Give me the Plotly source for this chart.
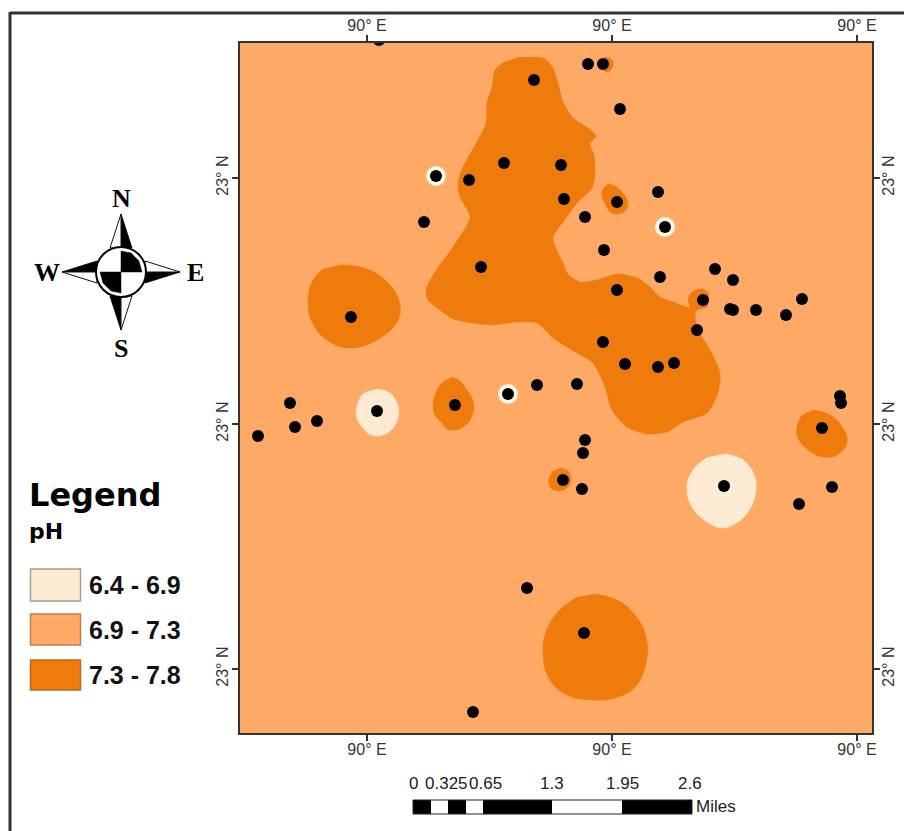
import plotly.graph_objects as go

# ---------- data (in map-sheet units) ----------
main_x = [533,545,553,558,563,573,588,596,590,594,595,592,577,563,553,558,563,567,580,597,617,637,650,660,673,687,690,688,690,696,703,708,709,707,697,695,700,710,720,718,707,683,667,647,627,612,605,593,577,553,537,517,493,473,453,440,428,426,435,453,470,460,458,463,478,486,487,492,495,503,520]
main_y = [57,59,68,83,102,118,128,136,144,155,173,188,203,222,238,253,263,273,282,280,274,278,287,297,302,307,307,300,294,290,289,292,298,307,310,317,333,350,373,393,413,422,432,434,427,410,387,363,353,338,323,322,325,323,319,310,300,290,272,247,217,197,183,167,140,123,103,87,70,63,57]
west_x = [340,367,390,400,397,377,350,327,312,308,313,323]
west_y = [265,269,285,305,322,340,348,340,322,303,280,269]
mid_x = [452,460,467,472,474,472,468,457,447,442,435,433,434,438,444]
mid_y = [377,381,390,398,407,416,423,430,429,423,415,407,398,388,381]
north_spot_x = [608,615,620,625,628,627,623,615,609,605,602,602,604]
north_spot_y = [184,186,190,196,202,208,213,214,211,203,197,192,187]
tiny_x = [605,612,613,608,603]
tiny_y = [57,60,66,72,70]
east_x = [813,830,843,847,837,823,808,798,797,802]
east_y = [410,415,428,442,455,457,450,438,427,415]
south_spot_x = [560,568,571,567,558,550,549,553]
south_spot_y = [468,471,480,488,491,487,479,471]
south_x = [593,617,635,646,646,635,615,592,567,550,543,548,563,578]
south_y = [594,600,615,637,663,687,698,700,695,680,653,627,607,597]
cream_big_x = [725,743,754,756,748,733,722,707,692,687,693,708]
cream_big_y = [454,460,475,490,512,525,528,522,507,488,470,457]
cream_small_x = [377,386,392,397,399,397,393,386,377,369,363,358,356,358,362,369]
cream_small_y = [389,391,395,403,412,421,428,434,436,434,428,421,412,403,395,391]
ring_x = [436,665,508]
ring_y = [176,227,394]
site_x = [379,534,588,603,620,504,561,469,436,564,617,658,585,665,424,604,481,660,715,733,617,703,730,733,756,786,802,351,697,603,625,658,674,577,537,508,455,377,290,295,317,258,840,841,822,585,583,563,582,724,832,799,527,584,473]
site_y = [40,80,64,64,109,163,165,180,176,199,202,192,217,227,222,250,267,277,269,280,290,300,309,310,310,315,299,317,330,342,364,367,363,384,385,394,405,411,403,427,421,436,396,403,428,440,453,480,489,486,487,504,588,633,712]

legend_title = "Legend"
legend_subtitle = "pH"
classes = ["6.4 - 6.9", "6.9 - 7.3", "7.3 - 7.8"]
lon_ticks = [367, 612, 857]
lon_labels = ["90° E", "90° E", "90° E"]
lat_ticks = [178, 424, 669]
lat_labels = ["23° N", "23° N", "23° N"]
scale_labels = ["0", "0.325", "0.65", "1.3", "1.95", "2.6"]
scale_label_pos = [413, 446, 485, 552, 622, 690]
scale_edges = [413, 431, 448, 466, 483, 552, 622, 692]

# ---------- styles ----------
W, H = 904, 831
L, R, T, B = 240, 872, 43, 733
CREAM, MID, DARK = "#FCEBD2", "#FEAA66", "#EF7B0C"
PW, PH = R - L, B - T

def px(x):
    return (x - L) / PW

def py(y):
    return (B - y) / PH

def rect(x0, y0, x1, y1, fill, line="rgba(0,0,0,0)", w=0):
    return dict(type="rect", xref="paper", yref="paper", x0=px(x0), x1=px(x1), y0=py(y0), y1=py(y1),
                fillcolor=fill, line=dict(color=line, width=w), layer="above")

def seg(x0, y0, x1, y1, color="#333333", w=3):
    return dict(type="line", xref="paper", yref="paper", x0=px(x0), x1=px(x1), y0=py(y0), y1=py(y1),
                line=dict(color=color, width=w), layer="above")

def poly(points, fill, line="#111111", w=1):
    d = "M " + " L ".join(f"{px(a):.5f},{py(b):.5f}" for a, b in points) + " Z"
    return dict(type="path", xref="paper", yref="paper", path=d, fillcolor=fill,
                line=dict(color=line, width=w), layer="above")

def circle(cx, cy, r, fill, line, w):
    return dict(type="circle", xref="paper", yref="paper", x0=px(cx - r), x1=px(cx + r),
                y0=py(cy + r), y1=py(cy - r), fillcolor=fill, line=dict(color=line, width=w), layer="above")

def label(x, y, text, size, family="Liberation Sans", color="#111111", xanchor="center", bold=False):
    t = f"<b>{text}</b>" if bold else text
    return dict(xref="paper", yref="paper", x=px(x), y=py(y), text=t, showarrow=False, xanchor=xanchor,
                yanchor="middle", font=dict(size=size, family=family, color=color))

fig = go.Figure()

def blob(xs, ys, color, name, smooth=0.7):
    fig.add_trace(go.Scatter(x=xs, y=ys, mode="lines", fill="toself", fillcolor=color,
                             line=dict(color=color, width=0.5, shape="spline", smoothing=smooth),
                             name=name, showlegend=False, hoverinfo="name"))

blob(main_x, main_y, DARK, classes[2], 0.7)
for xs, ys, s in [(west_x, west_y, 1.2), (mid_x, mid_y, 0.8), (north_spot_x, north_spot_y, 0.8), (tiny_x, tiny_y, 1.2),
                  (east_x, east_y, 1.2), (south_spot_x, south_spot_y, 1.0), (south_x, south_y, 1.2)]:
    blob(xs, ys, DARK, classes[2], s)
for xs, ys, s in [(cream_big_x, cream_big_y, 1.2), (cream_small_x, cream_small_y, 0.8)]:
    blob(xs, ys, CREAM, classes[0], s)

fig.add_trace(go.Scatter(x=ring_x, y=ring_y, mode="markers", showlegend=False, hoverinfo="skip",
                         marker=dict(size=20, color="#FFF6E6", line=dict(width=0))))
fig.add_trace(go.Scatter(x=site_x, y=site_y, mode="markers", showlegend=False, name="Sample site",
                         marker=dict(size=12, color="#000000", line=dict(width=0))))
# carries the top and right graticule labels
fig.add_trace(go.Scatter(x=[None], y=[None], xaxis="x2", yaxis="y2", showlegend=False, hoverinfo="skip"))

shapes = [seg(10, 13, 904, 13), seg(10, 12, 10, 831)]

# legend swatches
for (y0, y1), fill, edge in zip([(569, 601), (614, 645), (660, 690)], [CREAM, MID, DARK],
                                ["#A89F8C", "#B98050", "#B86A20"]):
    shapes.append(rect(30.5, y0, 80.5, y1, fill, edge, 1.5))

# scale bar
for i in range(len(scale_edges) - 1):
    shapes.append(rect(scale_edges[i], 800, scale_edges[i + 1], 814, "#000000" if i % 2 == 0 else "#FFFFFF"))
shapes.append(rect(413, 800, 692, 814, "rgba(0,0,0,0)", "#222222", 1))

# compass rose
cx, cy = 121, 272
shapes += [
    poly([(cx, 214), (cx + 11, 248), (cx, 248)], "#000000"),
    poly([(cx, 214), (cx - 11, 248), (cx, 248)], "#FFFFFF"),
    poly([(cx, 330), (cx - 11, 296), (cx, 296)], "#000000"),
    poly([(cx, 330), (cx + 11, 296), (cx, 296)], "#FFFFFF"),
    poly([(62, cy), (97, cy - 11), (97, cy)], "#000000"),
    poly([(62, cy), (97, cy + 11), (97, cy)], "#FFFFFF"),
    poly([(180, cy), (145, cy + 11), (145, cy)], "#000000"),
    poly([(180, cy), (145, cy - 11), (145, cy)], "#FFFFFF"),
    circle(cx, cy, 25, "#FFFFFF", "#000000", 2),
    poly([(cx, cy), (cx, cy - 21), (cx + 10, cy - 19), (cx + 18, cy - 11), (cx + 21, cy)], "#000000", w=0.5),
    poly([(cx, cy), (cx, cy + 21), (cx - 10, cy + 19), (cx - 18, cy + 11), (cx - 21, cy)], "#000000", w=0.5),
]

annotations = [
    label(121, 198, "N", 26, "Liberation Serif", "#000000", bold=True),
    label(121, 348, "S", 26, "Liberation Serif", "#000000", bold=True),
    label(47, 272, "W", 26, "Liberation Serif", "#000000", bold=True),
    label(195, 272, "E", 26, "Liberation Serif", "#000000", bold=True),
    label(27, 495, legend_title, 32, "DejaVu Sans", "#000000", "left", True),
    label(27, 531, legend_subtitle, 22, "DejaVu Sans", "#000000", "left", True),
    label(716, 806, "Miles", 17, "Liberation Sans", "#222222"),
]
for yy, text in zip([585, 630, 675], classes):
    annotations.append(label(87, yy, text, 25, "Liberation Sans", "#111111", "left", True))
for xx, text in zip(scale_label_pos, scale_labels):
    annotations.append(label(xx, 783, text, 17, "Liberation Sans", "#222222"))

tickfont = dict(family="Liberation Sans", size=16, color="#333333")
xcommon = dict(range=[L, R], tickmode="array", tickvals=lon_ticks, ticktext=lon_labels, ticks="outside",
               ticklen=6, tickwidth=1.5, tickcolor="#333333", showgrid=False, zeroline=False, automargin=False,
               showline=True, linecolor="#333333", linewidth=1.5, tickfont=tickfont, tickangle=0)
ycommon = dict(range=[B, T], tickmode="array", tickvals=lat_ticks, ticktext=lat_labels, ticks="outside",
               ticklen=6, tickwidth=1.5, tickcolor="#333333", showgrid=False, zeroline=False, automargin=False,
               showline=True, linecolor="#333333", linewidth=1.5, tickfont=tickfont, tickangle=-90)

fig.update_layout(
    width=W, height=H, autosize=False,
    margin=dict(l=L, r=W - R, t=T, b=H - B, pad=0),
    paper_bgcolor="#FFFFFF", plot_bgcolor=MID, showlegend=False,
    xaxis=dict(**xcommon, side="bottom", ticklabelstandoff=-5),
    yaxis=dict(**ycommon, side="left", ticklabelstandoff=-2),
    xaxis2=dict(**xcommon, side="top", overlaying="x", anchor="y", ticklabelstandoff=-2),
    yaxis2=dict(**ycommon, side="right", overlaying="y", anchor="x", ticklabelstandoff=-5),
    shapes=shapes, annotations=annotations,
)
# the page's default 8px body margin would shift the whole figure
fig.write_html("out.html", config={"displayModeBar": False},
               post_script="document.documentElement.style.overflow='hidden';document.body.style.margin='0';")
